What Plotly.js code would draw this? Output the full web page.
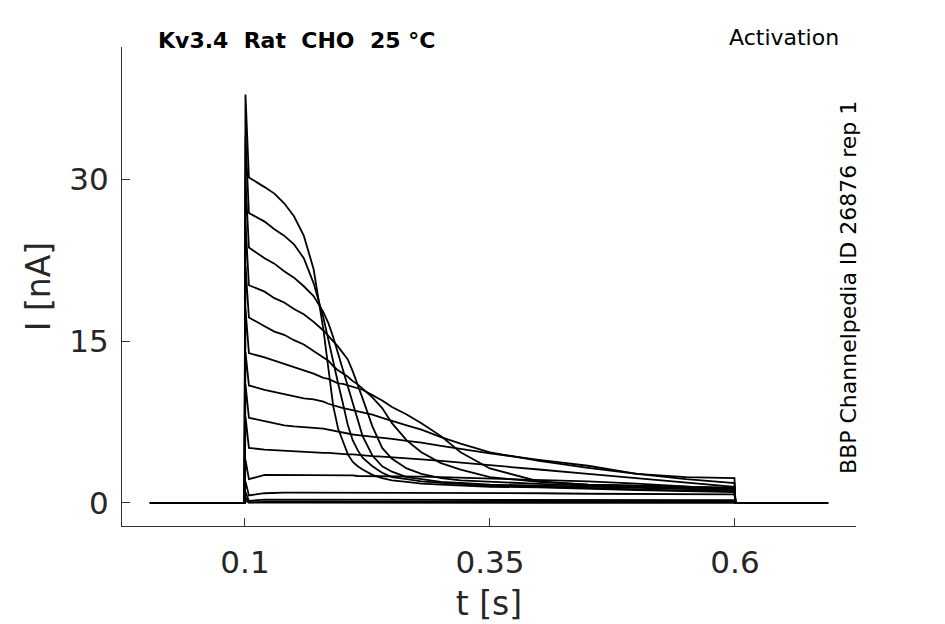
<!DOCTYPE html>
<html>
<head>
<meta charset="utf-8">
<script src="https://cdn.plot.ly/plotly-3.0.1.min.js"></script>
<style>
  html, body { margin: 0; padding: 0; background: #fff; }
  #chart { width: 945px; height: 624px; }
</style>
</head>
<body>
<div id="chart"></div>
<script>
// time samples (s)
var t = [0.003, 0.0995, 0.1005, 0.104, 0.12, 0.13, 0.14, 0.15, 0.16, 0.17, 0.18, 0.185, 0.19, 0.195, 0.2, 0.205,
         0.21, 0.215, 0.22, 0.23, 0.24, 0.25, 0.265, 0.28, 0.3, 0.32, 0.35, 0.4, 0.45, 0.5, 0.55,
         0.5995, 0.6005, 0.695];

// current sweeps (nA)
var sweep1 = [0, 0, 37.9, 30.2, 29.3, 28.7, 27.8, 26.6, 24.8, 21.7, 16.1, 12.3, 9.0, 6.9, 5.6, 4.5, 3.8, 3.4, 3.1,
              2.6, 2.3, 2.1, 1.95, 1.8, 1.7, 1.6, 1.5, 1.45, 1.3, 1.2, 1.1, 1.0, 0, 0];
var sweep2 = [0, 0, 34.0, 26.9, 26.1, 25.4, 24.8, 24.0, 22.7, 20.4, 17.2, 15.1, 13.2, 11.1, 9.2, 7.2, 5.8, 4.9, 4.2,
              3.4, 2.8, 2.4, 2.2, 2.0, 1.86, 1.76, 1.6, 1.5, 1.35, 1.25, 1.15, 1.1, 0, 0];
var sweep3 = [0, 0, 30.0, 23.7, 22.7, 22.2, 21.5, 20.9, 20.1, 19.2, 17.7, 16.7, 15.4, 13.9, 12.3, 10.8, 9.3, 7.8, 6.2,
              4.4, 3.4, 2.9, 2.4, 2.2, 1.95, 1.86, 1.7, 1.6, 1.5, 1.4, 1.3, 1.2, 0, 0];
var sweep4 = [0, 0, 26.0, 20.2, 19.6, 19.0, 18.6, 18.0, 17.5, 16.8, 16.0, 15.5, 15.1, 14.5, 13.9, 13.3, 12.2, 11.0, 9.7,
              7.1, 5.1, 4.1, 3.2, 2.7, 2.3, 2.1, 1.95, 1.76, 1.6, 1.5, 1.4, 1.3, 0, 0];
var sweep5 = [0, 0, 22.0, 17.2, 16.4, 15.9, 15.6, 15.1, 14.7, 14.1, 13.5, 13.2, 12.7, 12.3, 12.0, 11.7, 11.3, 11.0, 10.6,
              9.8, 8.8, 7.4, 5.8, 4.7, 3.7, 3.1, 2.4, 1.95, 1.7, 1.6, 1.45, 1.4, 0, 0];
var sweep6 = [0, 0, 18.0, 13.9, 13.5, 13.2, 12.9, 12.6, 12.3, 12.0, 11.6, 11.5, 11.3, 11.1, 11.05, 10.9, 10.8, 10.6, 10.5,
              10.0, 9.5, 8.9, 8.2, 7.4, 6.2, 4.7, 3.2, 2.0, 1.7, 1.6, 1.5, 1.4, 0, 0];
var sweep7 = [0, 0, 14.0, 10.9, 10.5, 10.3, 10.1, 9.9, 9.7, 9.6, 9.4, 9.2, 9.05, 8.9, 8.8, 8.7, 8.6, 8.5, 8.4,
              8.2, 7.9, 7.6, 7.2, 6.8, 6.1, 5.5, 4.7, 3.9, 3.25, 2.7, 2.4, 2.3, 0, 0];
var sweep8 = [0, 0, 11.0, 7.9, 7.6, 7.4, 7.2, 7.1, 7.05, 7.0, 6.9, 6.8, 6.7, 6.6, 6.5, 6.4, 6.35, 6.3, 6.25,
              6.2, 6.1, 5.95, 5.75, 5.6, 5.3, 5.0, 4.6, 4.0, 3.45, 2.7, 2.2, 1.85, 0, 0];
var sweep9 = [0, 0, 8.0, 5.1, 4.95, 4.9, 4.8, 4.8, 4.75, 4.7, 4.65, 4.65, 4.6, 4.6, 4.55, 4.5, 4.5, 4.45, 4.4,
              4.35, 4.3, 4.25, 4.15, 4.05, 3.9, 3.75, 3.5, 3.1, 2.7, 2.3, 1.9, 1.5, 0, 0];
var sweep10 = [0, 0, 4.0, 2.2, 2.6, 2.6, 2.6, 2.6, 2.6, 2.6, 2.6, 2.6, 2.55, 2.55, 2.55, 2.55, 2.55, 2.5, 2.5,
               2.5, 2.5, 2.5, 2.45, 2.45, 2.4, 2.35, 2.3, 2.15, 2.0, 1.8, 1.55, 1.25, 0, 0];
var sweep11 = [0, 0, 2.0, 0.7, 0.9, 0.95, 0.95, 0.95, 0.95, 0.95, 0.95, 0.95, 0.95, 0.95, 0.95, 0.95, 0.95, 0.95, 0.95,
               0.95, 0.95, 0.95, 0.95, 0.95, 0.9, 0.9, 0.9, 0.9, 0.85, 0.85, 0.8, 0.8, 0, 0];
var sweep12 = [0, 0, 1.0, 0.2, 0.3, 0.3, 0.3, 0.3, 0.3, 0.3, 0.3, 0.3, 0.3, 0.3, 0.3, 0.3, 0.3, 0.3, 0.3,
               0.3, 0.3, 0.3, 0.3, 0.3, 0.3, 0.3, 0.28, 0.28, 0.27, 0.26, 0.25, 0.25, 0, 0];
var sweep13 = [0, 0, 0.5, 0.05, 0.1, 0.1, 0.1, 0.1, 0.1, 0.1, 0.1, 0.1, 0.1, 0.1, 0.1, 0.1, 0.1, 0.1, 0.1,
               0.1, 0.1, 0.1, 0.1, 0.1, 0.1, 0.1, 0.1, 0.1, 0.1, 0.1, 0.1, 0.1, 0, 0];
var sweep14 = [0, 0, 0.2, 0.02, 0.02, 0.02, 0.02, 0.02, 0.02, 0.02, 0.02, 0.02, 0.02, 0.02, 0.02, 0.02, 0.02, 0.02, 0.02,
               0.02, 0.02, 0.02, 0.02, 0.02, 0.02, 0.02, 0.02, 0.02, 0.02, 0.02, 0.02, 0.02, 0, 0];

var sweeps = [sweep1, sweep2, sweep3, sweep4, sweep5, sweep6, sweep7,
              sweep8, sweep9, sweep10, sweep11, sweep12, sweep13, sweep14];

var xTicks = [0.1, 0.35, 0.6];
var xTickText = ['0.1', '0.35', '0.6'];
var yTicks = [0, 15, 30];
var yTickText = ['0', '15', '30'];

var data = [];
for (var i = 0; i < sweeps.length; i++) {
  data.push({
    x: t, y: sweeps[i], type: 'scatter', mode: 'lines',
    line: {color: '#000', width: 1.8},
    hoverinfo: 'skip', showlegend: false
  });
}

var font = 'DejaVu Sans, sans-serif';
var nb = '\u00a0\u00a0';

var layout = {
  width: 945, height: 624,
  margin: {l: 122, r: 89, t: 47, b: 98},
  paper_bgcolor: '#fff', plot_bgcolor: '#fff',
  font: {family: font, color: '#262626'},
  showlegend: false,
  xaxis: {
    range: [-0.0255, 0.7235],
    tickvals: xTicks, ticktext: xTickText,
    ticks: 'inside', ticklen: 8, tickcolor: '#333', tickwidth: 1,
    showline: true, linecolor: '#333', linewidth: 1,
    showgrid: false, zeroline: false,
    tickfont: {size: 31, color: '#262626'},
    ticklabelstandoff: 9,
    title: {text: 't [s]', font: {size: 33, color: '#262626'}, standoff: 12}
  },
  yaxis: {
    range: [-2.14, 42.3],
    tickvals: yTicks, ticktext: yTickText,
    ticks: 'inside', ticklen: 8, tickcolor: '#333', tickwidth: 1,
    showline: true, linecolor: '#333', linewidth: 1,
    showgrid: false, zeroline: false,
    tickfont: {size: 31, color: '#262626'},
    ticklabelstandoff: 6,
    title: {text: 'I [nA]', font: {size: 33, color: '#262626'}, standoff: 8}
  },
  annotations: [
    {
      text: '<b>Kv3.4' + nb + 'Rat' + nb + 'CHO' + nb + '25 °C</b>',
      xref: 'paper', yref: 'paper', x: 0.047, y: 1.0146, xanchor: 'left', yanchor: 'middle',
      showarrow: false, font: {size: 22, color: '#000', family: font}
    },
    {
      text: 'Activation',
      xref: 'paper', yref: 'paper', x: 0.98, y: 1.0188, xanchor: 'right', yanchor: 'middle',
      showarrow: false, font: {size: 22, color: '#000', family: font}
    },
    {
      text: 'BBP Channelpedia ID 26876 rep 1',
      xref: 'paper', yref: 'paper', x: 0.9905, y: 0.497, xanchor: 'center', yanchor: 'middle',
      textangle: -90, showarrow: false, font: {size: 22, color: '#000', family: font}
    }
  ]
};

Plotly.newPlot('chart', data, layout, {staticPlot: true, displayModeBar: false});
</script>
</body>
</html>
